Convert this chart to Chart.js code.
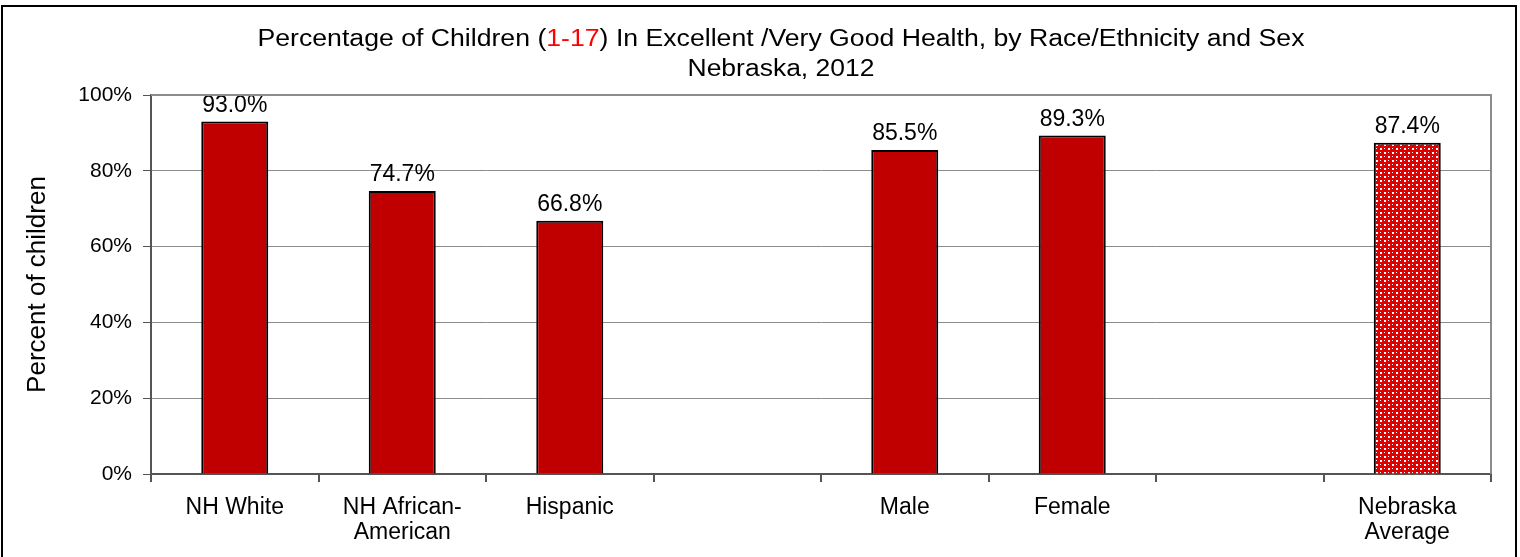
<!DOCTYPE html>
<html>
<head>
<meta charset="utf-8">
<script src="https://cdn.jsdelivr.net/npm/chart.js@4.4.1/dist/chart.umd.min.js"></script>
<style>
  body { margin: 0; background: #fff; }
  #wrap { width: 1520px; height: 557px; }
</style>
</head>
<body>
<div id="wrap"><canvas id="chart" width="1520" height="557"></canvas></div>
<script>
// data
let categories = ["NH White", ["NH African-", "American"], "Hispanic", "", "Male", "Female", "", ["Nebraska", "Average"]];
let values = [93.0, 74.7, 66.8, null, 85.5, 89.3, null, 87.4];
let yTicks = [0, 20, 40, 60, 80, 100];
let titleParts = [["Percentage of Children (", "#000"], ["1-17", "#ff0000"], [") In Excellent /Very Good Health, by Race/Ethnicity and Sex", "#000"]];
let subTitle = "Nebraska, 2012";

const FONT = "Arial, 'Liberation Sans', sans-serif";
const RED = "#c00000";

// red fill with small white dots for the state average bar
function makePattern() {
  let c = document.createElement("canvas");
  c.width = 8; c.height = 8;
  let g = c.getContext("2d");
  g.fillStyle = "#e00000";
  g.fillRect(0, 0, 8, 8);
  g.fillStyle = "#ffffff";
  g.fillRect(0, 0, 2, 2);
  g.fillRect(4, 4, 2, 2);
  g.fillRect(4, 0, 1, 1);
  g.fillRect(0, 4, 1, 1);
  return g.createPattern(c, "repeat");
}

let pattern = makePattern();
let colors = values.map((v, i) => i === values.length - 1 ? pattern : RED);

// draw a line of text stretched to a given width, centred on cx
function fitText(ctx, parts, cx, y, width) {
  let total = parts.reduce((s, p) => s + ctx.measureText(p[0]).width, 0);
  let k = width / total;
  ctx.save();
  ctx.translate(cx - width / 2, y);
  ctx.scale(k, 1);
  let x = 0;
  parts.forEach(p => {
    ctx.fillStyle = p[1];
    ctx.fillText(p[0], x, 0);
    x += ctx.measureText(p[0]).width;
  });
  ctx.restore();
}

// frame, title and the grey top/right edges of the plot
const decor = {
  id: "decor",
  beforeDraw(chart) {
    let ctx = chart.ctx;
    ctx.save();
    ctx.fillStyle = "#fff";
    ctx.fillRect(0, 0, chart.width, chart.height);
    ctx.strokeStyle = "#000";
    ctx.lineWidth = 2;
    ctx.beginPath();
    ctx.moveTo(2, chart.height + 2);
    ctx.lineTo(2, 6);
    ctx.lineTo(1516, 6);
    ctx.lineTo(1516, chart.height + 2);
    ctx.stroke();

    // title, the age range in red
    ctx.font = "23px " + FONT;
    ctx.textBaseline = "alphabetic";
    ctx.textAlign = "left";
    fitText(ctx, titleParts, 781, 46, 1047);
    fitText(ctx, [[subTitle, "#000"]], 781, 76, 187);
    ctx.restore();
  },
  afterDraw(chart) {
    let a = chart.chartArea;
    let ctx = chart.ctx;
    ctx.save();
    ctx.strokeStyle = "#8c8c8c";
    ctx.lineWidth = 2;
    ctx.beginPath();
    ctx.moveTo(a.left, a.top);
    ctx.lineTo(a.right, a.top);
    ctx.lineTo(a.right, a.bottom);
    ctx.stroke();
    ctx.restore();
  }
};

// value labels over the bars
const barLabels = {
  id: "barLabels",
  afterDatasetsDraw(chart) {
    let ctx = chart.ctx;
    let meta = chart.getDatasetMeta(0);
    ctx.save();
    ctx.font = "23px " + FONT;
    ctx.fillStyle = "#000";
    ctx.textAlign = "center";
    ctx.textBaseline = "alphabetic";
    meta.data.forEach((bar, i) => {
      if (values[i] == null) return;
      ctx.fillText(values[i].toFixed(1) + "%", bar.x, bar.y - 10);
    });
    ctx.restore();
  }
};

new Chart(document.getElementById("chart"), {
  type: "bar",
  data: {
    labels: categories,
    datasets: [{
      data: values,
      backgroundColor: colors,
      borderColor: "#000",
      borderWidth: 2,
      borderSkipped: "bottom",
      barPercentage: 0.4,
      categoryPercentage: 1
    }]
  },
  options: {
    responsive: false,
    animation: false,
    devicePixelRatio: 1,
    layout: { padding: { top: 95, right: 29, left: 0, bottom: 0 } },
    plugins: {
      legend: { display: false },
      tooltip: { enabled: false }
    },
    scales: {
      x: {
        offset: true,
        grid: { offset: true, drawOnChartArea: false, tickLength: 8, color: "#555", lineWidth: 2 },
        border: { color: "#555", width: 2 },
        ticks: { color: "#000", font: { family: FONT, size: 23, lineHeight: 1.1 }, padding: 13, maxRotation: 0, autoSkip: false },
        afterFit(scale) { scale.height = 83; }
      },
      y: {
        min: 0,
        max: 100,
        afterBuildTicks(scale) { scale.ticks = yTicks.map(v => ({ value: v })); },
        grid: { color: "#8c8c8c", lineWidth: 1, tickLength: 8, tickColor: "#555" },
        border: { color: "#555", width: 2 },
        ticks: { color: "#000", font: { family: FONT, size: 21 }, padding: 11, callback: v => v + "%" },
        title: { display: true, text: "Percent of children", color: "#000", font: { family: FONT, size: 26 }, padding: { top: 22, bottom: 0 } },
        afterFit(scale) { scale.width = 151; }
      }
    }
  },
  plugins: [decor, barLabels]
});
</script>
</body>
</html>
